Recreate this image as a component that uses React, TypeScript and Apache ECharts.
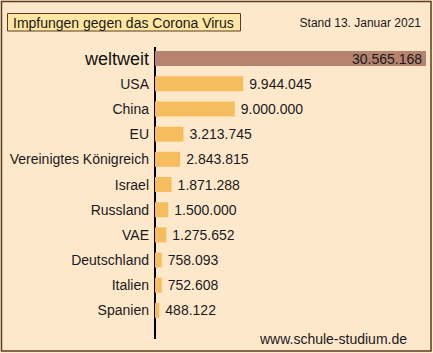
import React, { useEffect, useRef } from "react";
import * as echarts from "echarts";

const categories = [
  "weltweit",
  "USA",
  "China",
  "EU",
  "Vereinigtes Königreich",
  "Israel",
  "Russland",
  "VAE",
  "Deutschland",
  "Italien",
  "Spanien",
];
const impfungen = [
  30565168, 9944045, 9000000, 3213745, 2843815, 1871288, 1500000, 1275652,
  758093, 752608, 488122,
];
const titleText = "Impfungen gegen das Corona Virus";
const standText = "Stand 13. Januar 2021";
const sourceText = "www.schule-studium.de";

const FONT = "'Liberation Sans', Arial, sans-serif";
const fmt = (v: number) => String(v).replace(/\B(?=(\d{3})+(?!\d))/g, ".");

export default function App() {
  const ref = useRef<HTMLDivElement>(null);
  useEffect(() => {
    if (!ref.current) return;
    const chart = echarts.init(ref.current, undefined, { renderer: "svg" });
    chart.setOption({
      animation: false,
      backgroundColor: "#FEE8CC",
      textStyle: { fontFamily: FONT },
      grid: { left: 155, right: 7, top: 46, height: 277, containLabel: false },
      xAxis: {
        type: "value",
        min: 0,
        max: impfungen[0],
        show: false,
      },
      yAxis: {
        type: "category",
        inverse: true,
        data: categories,
        axisLine: { show: false },
        axisTick: { show: false },
        axisLabel: {
          fontFamily: FONT,
          fontSize: 14,
          color: "#1a1a1a",
          margin: 6,
          formatter: (v: string) => (v === "weltweit" ? `{big|${v}}` : v),
          rich: { big: { fontSize: 18, fontFamily: FONT, color: "#111" } },
        },
      },
      series: [
        {
          type: "bar",
          barWidth: 15,
          data: impfungen.map((v, i) => ({
            value: v,
            itemStyle: { color: i === 0 ? "#B6846E" : "#F6BD5F" },
            label:
              i === 0
                ? { position: "insideRight", distance: 4 }
                : { position: "right", distance: 6 },
          })),
          label: {
            show: true,
            fontFamily: FONT,
            fontSize: 14,
            color: "#1a1a1a",
            formatter: (p: any) => fmt(p.value),
          },
        },
      ],
      graphic: [
        {
          type: "rect",
          shape: { x: 1.5, y: 1.5, width: 429.5, height: 349.5 },
          style: { fill: "none", stroke: "#5A3C1E", lineWidth: 1.5 },
          silent: true,
        },
        {
          type: "rect",
          shape: { x: 7.5, y: 13.5, width: 233, height: 17.5 },
          style: { fill: "#FFE6A2", stroke: "#5A3C1E", lineWidth: 1 },
          silent: true,
        },
        {
          type: "text",
          x: 13,
          y: 22.5,
          style: {
            text: titleText,
            fontFamily: FONT,
            fontSize: 14,
            fill: "#1a1a1a",
            verticalAlign: "middle",
          },
        },
        {
          type: "text",
          x: 421,
          y: 22.5,
          style: {
            text: standText,
            fontFamily: FONT,
            fontSize: 12,
            fill: "#1a1a1a",
            align: "right",
            verticalAlign: "middle",
          },
        },
        {
          type: "rect",
          shape: { x: 154, y: 47, width: 2, height: 292 },
          style: { fill: "#000" },
          silent: true,
        },
        {
          type: "text",
          x: 407,
          y: 339,
          style: {
            text: sourceText,
            fontFamily: FONT,
            fontSize: 14,
            fill: "#1a1a1a",
            align: "right",
            verticalAlign: "middle",
          },
        },
      ],
    });
    return () => chart.dispose();
  }, []);
  return (
    <div
      ref={ref}
      style={{ position: "fixed", left: 0, top: 0, width: 433, height: 353 }}
    />
  );
}
